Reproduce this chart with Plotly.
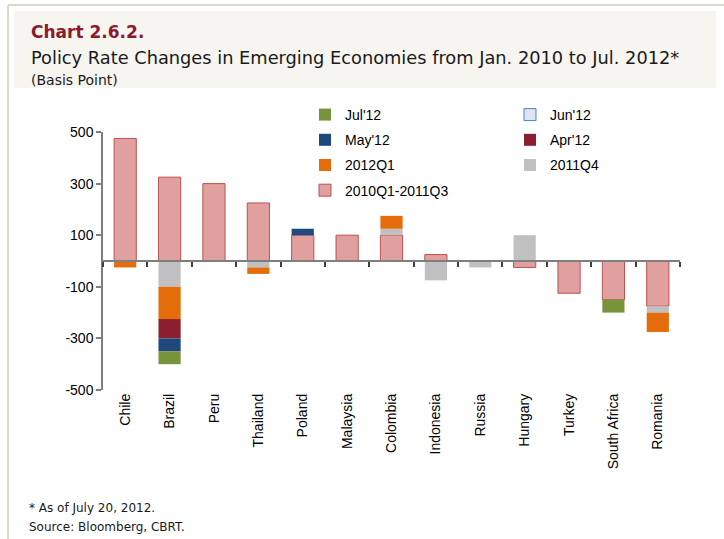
import plotly.graph_objects as go

countries = ["Chile", "Brazil", "Peru", "Thailand", "Poland", "Malaysia", "Colombia",
             "Indonesia", "Russia", "Hungary", "Turkey", "South Africa", "Romania"]
chg_2010q1_2011q3 = [475, 325, 300, 225, 100, 100, 100, 25, 0, -25, -125, -150, -175]
chg_2011q4 = [0, -100, 0, -25, 0, 0, 25, -75, -25, 100, 0, 0, -25]
chg_2012q1 = [-25, -125, 0, -25, 0, 0, 50, 0, 0, 0, 0, 0, -75]
chg_apr12 = [0, -75, 0, 0, 0, 0, 0, 0, 0, 0, 0, 0, 0]
chg_may12 = [0, -50, 0, 0, 25, 0, 0, 0, 0, 0, 0, 0, 0]
chg_jun12 = [0, 0, 0, 0, 0, 0, 0, 0, 0, 0, 0, 0, 0]
chg_jul12 = [0, -50, 0, 0, 0, 0, 0, 0, 0, 0, 0, -50, 0]
y_ticks = [-500, -300, -100, 100, 300, 500]

# plot area in pixels
W, H = 724, 539
L, R, T, B = 103, 680, 132, 390
pw, ph = R - L, B - T


def px(x):
    return (x - L) / pw


def py(y):
    return (B - y) / ph


series = [
    ("2010Q1-2011Q3", chg_2010q1_2011q3, "#E0A0A0", "#C0504D", 1, "legend", 4),
    ("2011Q4", chg_2011q4, "#C0C0C0", "#C0C0C0", 0, "legend2", 3),
    ("2012Q1", chg_2012q1, "#E46C0A", "#E46C0A", 0, "legend", 3),
    ("Apr'12", chg_apr12, "#8B1F2F", "#8B1F2F", 0, "legend2", 2),
    ("May'12", chg_may12, "#1F497D", "#1F497D", 0, "legend", 2),
    ("Jun'12", chg_jun12, "#DCE6F2", "#4F81BD", 1, "legend2", 1),
    ("Jul'12", chg_jul12, "#77933C", "#77933C", 0, "legend", 1),
]

fig = go.Figure()
for name, vals, fill, line, lw, leg, rank in series:
    fig.add_trace(go.Bar(
        x=countries, y=[v if v != 0 else None for v in vals], name=name,
        legend=leg, legendrank=rank, legendgroup=name,
        marker=dict(color=fill, line=dict(color=line, width=lw)),
    ))

# helper trace for the category-boundary axis drawn at zero
n = len(countries)
fig.add_trace(go.Scatter(
    x=list(range(n)), y=[0] * n, xaxis="x2", yaxis="y", mode="markers",
    marker=dict(opacity=0), showlegend=False, hoverinfo="skip",
))

axis_font = dict(family="Liberation Sans, Arial, sans-serif", size=14, color="#000000")
head_font = "DejaVu Sans, sans-serif"

fig.update_layout(
    width=W, height=H,
    margin=dict(l=L, r=W - R, t=T, b=H - B),
    paper_bgcolor="#FFFFFF", plot_bgcolor="#FFFFFF",
    barmode="relative", bargap=0.5,
    showlegend=True,
    xaxis=dict(
        type="category", tickangle=-90, tickfont=axis_font, showline=False,
        ticks="", showgrid=False, zeroline=False, range=[-0.5, n - 0.5],
    ),
    xaxis2=dict(
        type="linear", overlaying="x", anchor="free", position=0.5,
        range=[-0.5, n - 0.5], tickmode="array",
        tickvals=[i - 0.5 for i in range(n + 1)],
        showticklabels=False, showline=True, linecolor="#7F7F7F", linewidth=1.5,
        ticks="outside", ticklen=5, tickcolor="#404040",
        tickwidth=1.5, showgrid=False, zeroline=False,
    ),
    yaxis=dict(
        range=[-500, 500], tickvals=y_ticks, ticktext=[str(v) for v in y_ticks],
        tickfont=axis_font, showline=True, linecolor="#7F7F7F", linewidth=1.5,
        ticks="outside", ticklen=5, tickcolor="#7F7F7F", tickwidth=1.5,
        showgrid=False, zeroline=False,
    ),
    legend=dict(
        x=px(305), y=py(99), xanchor="left", yanchor="top",
        font=dict(family="Liberation Sans, Arial, sans-serif", size=14, color="#000000"),
        bgcolor="rgba(0,0,0,0)", traceorder="grouped", tracegroupgap=4,
        itemwidth=30,
    ),
    legend2=dict(
        x=px(510), y=py(99), xanchor="left", yanchor="top",
        font=dict(family="Liberation Sans, Arial, sans-serif", size=14, color="#000000"),
        bgcolor="rgba(0,0,0,0)", traceorder="grouped", tracegroupgap=4,
        itemwidth=30,
    ),
    shapes=[
        # header background
        dict(type="rect", xref="paper", yref="paper", x0=px(14), x1=px(716),
             y0=py(88), y1=py(11), fillcolor="#F6F5F0", line=dict(width=0), layer="below"),
        # frame lines
        dict(type="line", xref="paper", yref="paper", x0=px(8), x1=px(724),
             y0=py(5), y1=py(5), line=dict(color="#D5CBB6", width=1.5)),
        dict(type="line", xref="paper", yref="paper", x0=px(8), x1=px(8),
             y0=py(5), y1=py(539), line=dict(color="#D5CBB6", width=1.5)),
    ],
    annotations=[
        dict(text="<b>Chart 2.6.2.</b>", xref="paper", yref="paper", x=px(29), y=py(32),
             xanchor="left", yanchor="middle", showarrow=False,
             font=dict(family=head_font, size=17, color="#8B1A2E")),
        dict(text="Policy Rate Changes in Emerging Economies from Jan. 2010 to Jul. 2012*",
             xref="paper", yref="paper", x=px(29), y=py(58), xanchor="left", yanchor="middle",
             showarrow=False, font=dict(family=head_font, size=17.8, color="#1A1A1A")),
        dict(text="(Basis Point)", xref="paper", yref="paper", x=px(29), y=py(80),
             xanchor="left", yanchor="middle", showarrow=False,
             font=dict(family=head_font, size=14, color="#1A1A1A")),
        dict(text="* As of July 20, 2012.", xref="paper", yref="paper", x=px(27), y=py(508),
             xanchor="left", yanchor="middle", showarrow=False,
             font=dict(family=head_font, size=12, color="#1A1A1A")),
        dict(text="Source: Bloomberg, CBRT.", xref="paper", yref="paper", x=px(27), y=py(527),
             xanchor="left", yanchor="middle", showarrow=False,
             font=dict(family=head_font, size=12, color="#1A1A1A")),
    ],
)

fig.write_html("out.html", config={"displayModeBar": False},
               post_script="document.body.style.margin='0px';")
